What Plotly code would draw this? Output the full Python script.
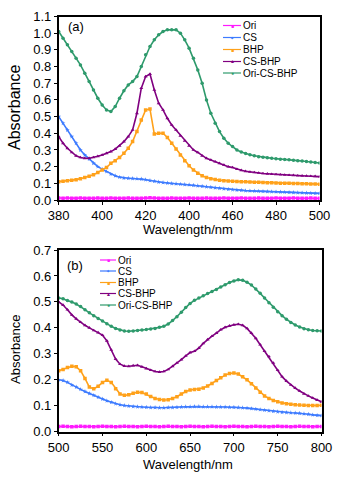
import plotly.graph_objects as go

W, H = 346, 479

# ---------------- Panel (a) data ----------------
wl_a = list(range(380, 501, 2))
ori_a = [0.012, 0.011, 0.012, 0.010, 0.011, 0.012, 0.011, 0.010, 0.011, 0.012,
         0.011, 0.010, 0.012, 0.011, 0.010, 0.011, 0.012, 0.011, 0.010, 0.011,
         0.012, 0.013, 0.012, 0.011, 0.010, 0.011, 0.012, 0.011, 0.010, 0.011,
         0.012, 0.011, 0.010, 0.011, 0.012, 0.011, 0.010, 0.011, 0.012, 0.011,
         0.010, 0.011, 0.012, 0.011, 0.010, 0.011, 0.012, 0.011, 0.010, 0.011,
         0.012, 0.011, 0.010, 0.011, 0.012, 0.011, 0.010, 0.011, 0.012, 0.011,
         0.010]
cs_a = [0.50, 0.46, 0.42, 0.38, 0.34, 0.30, 0.27, 0.245, 0.22, 0.20,
        0.185, 0.17, 0.155, 0.145, 0.137, 0.132, 0.13, 0.129, 0.128, 0.126,
        0.122, 0.117, 0.112, 0.108, 0.105, 0.102, 0.099, 0.097, 0.095, 0.093,
        0.091, 0.088, 0.085, 0.082, 0.079, 0.076, 0.073, 0.070, 0.067, 0.064,
        0.062, 0.060, 0.058, 0.056, 0.055, 0.054, 0.053, 0.052, 0.051, 0.050,
        0.049, 0.048, 0.047, 0.046, 0.045, 0.044, 0.043, 0.042, 0.041, 0.040,
        0.040]
bhp_a = [0.11, 0.112, 0.115, 0.118, 0.122, 0.128, 0.135, 0.143, 0.152, 0.165,
         0.18, 0.195, 0.22, 0.235, 0.255, 0.28, 0.31, 0.35, 0.41, 0.48,
         0.54, 0.545, 0.395, 0.40, 0.40, 0.375, 0.34, 0.305, 0.27, 0.235,
         0.205, 0.18, 0.16, 0.145, 0.135, 0.128, 0.123, 0.119, 0.116, 0.114,
         0.112, 0.111, 0.110, 0.109, 0.108, 0.107, 0.106, 0.105, 0.104, 0.103,
         0.102, 0.101, 0.100, 0.100, 0.099, 0.099, 0.098, 0.097, 0.096, 0.096,
         0.095]
csbhp_a = [0.38, 0.34, 0.31, 0.285, 0.265, 0.255, 0.25, 0.25, 0.255, 0.262,
           0.27, 0.28, 0.29, 0.305, 0.325, 0.35, 0.38, 0.42, 0.52, 0.67,
           0.74, 0.755, 0.66, 0.58, 0.54, 0.49, 0.45, 0.42, 0.385, 0.355,
           0.325, 0.30, 0.285, 0.265, 0.25, 0.24, 0.23, 0.22, 0.21, 0.20,
           0.195, 0.185, 0.178, 0.172, 0.168, 0.165, 0.162, 0.159, 0.157, 0.155,
           0.153, 0.152, 0.150, 0.149, 0.148, 0.146, 0.145, 0.144, 0.143, 0.142,
           0.14]
oricsbhp_a = [1.01, 0.97, 0.93, 0.89, 0.85, 0.81, 0.76, 0.71, 0.66, 0.61,
              0.57, 0.54, 0.53, 0.56, 0.61, 0.655, 0.69, 0.71, 0.74, 0.80,
              0.87, 0.92, 0.96, 0.99, 1.01, 1.02, 1.02, 1.02, 1.00, 0.96,
              0.91, 0.85, 0.78, 0.70, 0.60, 0.52, 0.46, 0.41, 0.37, 0.34,
              0.32, 0.30, 0.288, 0.278, 0.271, 0.265, 0.26, 0.257, 0.254, 0.25,
              0.247, 0.245, 0.243, 0.241, 0.239, 0.236, 0.234, 0.231, 0.228, 0.225,
              0.222]

# ---------------- Panel (b) data ----------------
wl_b = list(range(500, 801, 5))
ori_b = [0.020, 0.021, 0.020, 0.019, 0.020, 0.021, 0.020, 0.020, 0.019, 0.020,
         0.021, 0.020, 0.020, 0.019, 0.020, 0.021, 0.020, 0.020, 0.019, 0.020,
         0.021, 0.020, 0.020, 0.019, 0.020, 0.021, 0.020, 0.020, 0.019, 0.020,
         0.021, 0.020, 0.020, 0.019, 0.020, 0.021, 0.020, 0.020, 0.019, 0.020,
         0.021, 0.020, 0.020, 0.019, 0.020, 0.021, 0.020, 0.020, 0.019, 0.020,
         0.021, 0.020, 0.020, 0.019, 0.020, 0.021, 0.020, 0.020, 0.019, 0.020,
         0.020]
cs_b = [0.20, 0.197, 0.19, 0.18, 0.172, 0.163, 0.155, 0.147, 0.14, 0.133,
        0.126, 0.119, 0.113, 0.108, 0.104, 0.101, 0.099, 0.097, 0.096, 0.095,
        0.094, 0.093, 0.093, 0.092, 0.092, 0.093, 0.093, 0.094, 0.095, 0.096,
        0.096, 0.097, 0.097, 0.096, 0.096, 0.096, 0.095, 0.095, 0.095, 0.094,
        0.094, 0.093, 0.092, 0.091, 0.089, 0.087, 0.085, 0.083, 0.081, 0.079,
        0.077, 0.075, 0.074, 0.073, 0.072, 0.071, 0.069, 0.067, 0.065, 0.063,
        0.062]
bhp_b = [0.235, 0.24, 0.247, 0.252, 0.25, 0.235, 0.205, 0.172, 0.165, 0.175,
         0.19, 0.198, 0.19, 0.165, 0.145, 0.14, 0.142, 0.148, 0.152, 0.151,
         0.145, 0.136, 0.128, 0.124, 0.122, 0.123, 0.128, 0.135, 0.145, 0.155,
         0.161, 0.163, 0.164, 0.168, 0.176, 0.186, 0.197, 0.208, 0.218, 0.224,
         0.226, 0.222, 0.212, 0.2, 0.185, 0.168, 0.152, 0.138, 0.128, 0.12,
         0.115, 0.111, 0.108, 0.106, 0.104, 0.103, 0.102, 0.101, 0.101, 0.101,
         0.102]
csbhp_b = [0.50, 0.488, 0.47, 0.45, 0.435, 0.422, 0.41, 0.40, 0.39, 0.382,
           0.372, 0.35, 0.315, 0.28, 0.26, 0.253, 0.252, 0.255, 0.256, 0.25,
           0.243, 0.237, 0.232, 0.23, 0.232, 0.24, 0.252, 0.265, 0.278, 0.292,
           0.305, 0.31, 0.322, 0.34, 0.355, 0.368, 0.38, 0.393, 0.402, 0.408,
           0.412, 0.414, 0.41, 0.398, 0.38, 0.36, 0.335, 0.31, 0.29, 0.265,
           0.237, 0.212, 0.195, 0.18, 0.168, 0.157, 0.146, 0.138, 0.13, 0.122,
           0.115]
oricsbhp_b = [0.515, 0.512, 0.505, 0.50, 0.492, 0.482, 0.47, 0.458, 0.447, 0.436,
              0.426, 0.416, 0.406, 0.398, 0.392, 0.388, 0.387, 0.388, 0.39, 0.392,
              0.394, 0.396, 0.398, 0.402, 0.406, 0.415, 0.428, 0.443, 0.46, 0.478,
              0.494, 0.506, 0.515, 0.524, 0.532, 0.54, 0.548, 0.557, 0.566, 0.575,
              0.581, 0.585, 0.583, 0.576, 0.565, 0.55, 0.533, 0.515, 0.497, 0.479,
              0.462, 0.447, 0.433, 0.421, 0.411, 0.403, 0.397, 0.393, 0.39, 0.389,
              0.388]

names = ["Ori", "CS", "BHP", "CS-BHP", "Ori-CS-BHP"]
colors = ["#ff1aff", "#3d7bff", "#ffa11a", "#800080", "#2e9a6c"]
symbols = ["square", "star", "square", "triangle-up", "circle"]
glyphs = ["■", "✦", "■", "▲", "●"]

xa_ticks = [380, 400, 420, 440, 460, 480, 500]
xa_ticktext = ["380", "400", "420", "400", "460", "480", "500"]
ya_ticks = [0.0, 0.1, 0.2, 0.3, 0.4, 0.5, 0.6, 0.7, 0.8, 0.9, 1.0, 1.1]
xb_ticks = [500, 550, 600, 650, 700, 750, 800]
yb_ticks = [0.0, 0.1, 0.2, 0.3, 0.4, 0.5, 0.6, 0.7]

FONT = "Liberation Sans, Arial, sans-serif"

fig = go.Figure()

series_a = [ori_a, cs_a, bhp_a, csbhp_a, oricsbhp_a]
series_b = [ori_b, cs_b, bhp_b, csbhp_b, oricsbhp_b]
for i, (n, c, s) in enumerate(zip(names, colors, symbols)):
    fig.add_trace(go.Scatter(x=wl_a, y=series_a[i], mode="lines+markers", name=n,
                             line=dict(color=c, width=1.6),
                             marker=dict(symbol=s, size=3.5, color=c),
                             xaxis="x", yaxis="y", showlegend=False))
for i, (n, c, s) in enumerate(zip(names, colors, symbols)):
    fig.add_trace(go.Scatter(x=wl_b, y=series_b[i], mode="lines+markers", name=n,
                             line=dict(color=c, width=1.6),
                             marker=dict(symbol=s, size=3.5, color=c),
                             xaxis="x2", yaxis="y2", showlegend=False))

def px(x):
    return x / W

def py(y):
    return 1 - y / H

axis_common = dict(showline=True, linecolor="black", linewidth=1.5, mirror=True,
                   ticks="outside", ticklen=3, tickwidth=1, tickcolor="black",
                   showgrid=False, zeroline=False, automargin=False,
                   tickfont=dict(family=FONT, size=13, color="black"))

fig.update_layout(
    width=W, height=H,
    margin=dict(l=0, r=0, t=0, b=0),
    paper_bgcolor="white", plot_bgcolor="white",
    font=dict(family=FONT, color="black"),
    xaxis=dict(domain=[px(58.7), px(319.5)], range=[380, 500], anchor="y",
               tickvals=xa_ticks, ticktext=xa_ticktext, **axis_common),
    yaxis=dict(domain=[py(200), py(16.5)], range=[0, 1.1], anchor="x",
               tickvals=ya_ticks, tickformat=".1f", **axis_common),
    xaxis2=dict(domain=[px(58.7), px(321.5)], range=[500, 800], anchor="y2",
                tickvals=xb_ticks, **axis_common),
    yaxis2=dict(domain=[py(431.7), py(250)], range=[0, 0.7], anchor="x2",
                tickvals=yb_ticks, tickformat=".1f", **axis_common),
)

def text(x, y, s, size=13, angle=0, xanchor="center"):
    fig.add_annotation(x=px(x), y=py(y), xref="paper", yref="paper", text=s,
                       showarrow=False, xanchor=xanchor, yanchor="middle",
                       textangle=angle,
                       font=dict(family=FONT, size=size, color="black"))

# axis titles
text(188, 230, "Wavelength/nm")
text(188, 464, "Wavelength/nm")
text(15, 108, "Absorbance", size=16, angle=-90)
text(15, 350, "Absorbance", size=13, angle=-90)

# panel labels
text(66, 26, "(a)", xanchor="left")
text(65, 265, "(b)", xanchor="left")

# manual compact legends
def add_legend(x0, x1, xt, ys):
    for n, c, g, y in zip(names, colors, glyphs, ys):
        fig.add_shape(type="line", xref="paper", yref="paper",
                      x0=px(x0), x1=px(x1), y0=py(y), y1=py(y),
                      line=dict(color=c, width=1.2))
        fig.add_annotation(x=px((x0 + x1) / 2), y=py(y), xref="paper", yref="paper",
                           text=g, showarrow=False, xanchor="center", yanchor="middle",
                           font=dict(size=5, color=c))
        fig.add_annotation(x=px(xt), y=py(y), xref="paper", yref="paper", text=n,
                           showarrow=False, xanchor="left", yanchor="middle",
                           font=dict(family=FONT, size=10, color="black"))

add_legend(223, 241, 241, [25.5, 37.5, 49.5, 61.5, 73])
add_legend(100, 116, 116, [260, 271, 282.5, 293.5, 305])

fig.write_html("out.html", config={"displayModeBar": False},
               post_script="document.body.style.margin='0';")
